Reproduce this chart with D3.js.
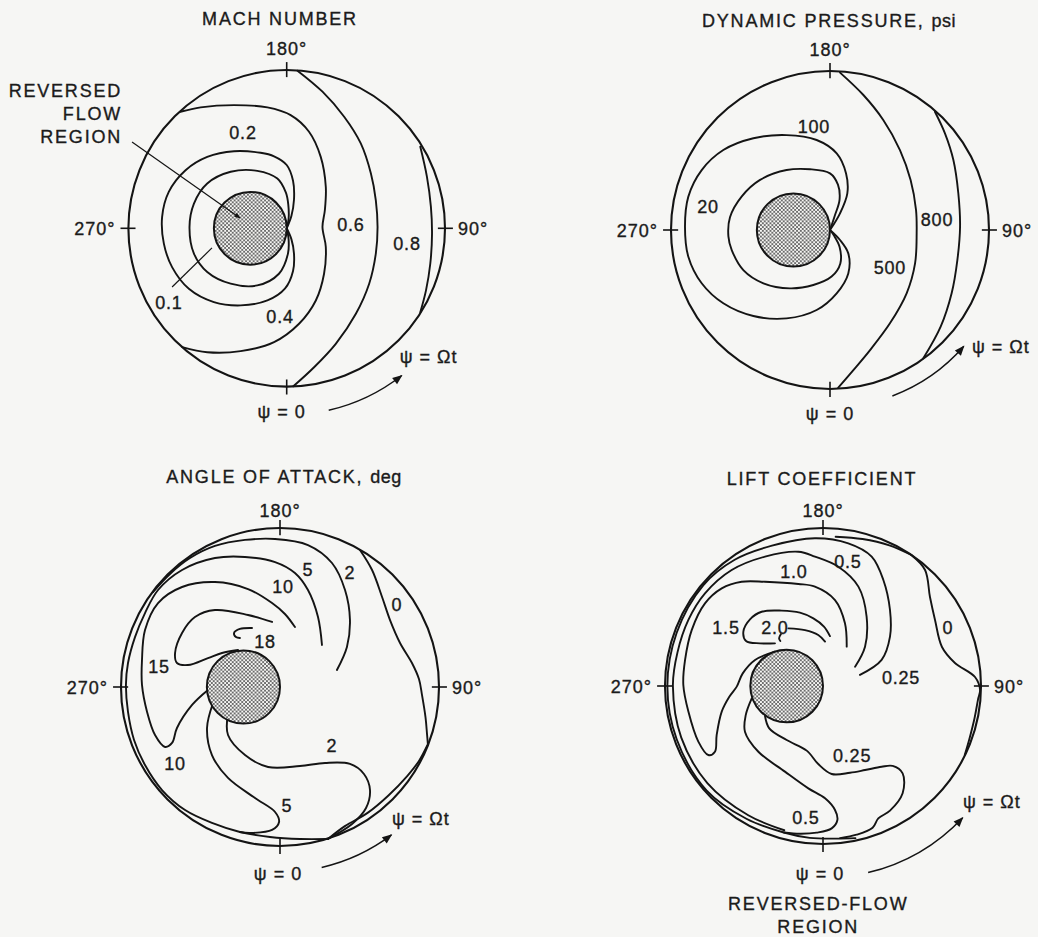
<!DOCTYPE html>
<html>
<head>
<meta charset="utf-8">
<script src="https://cdn.jsdelivr.net/npm/d3@7"></script>
<style>
  body { margin: 0; background: #f6f6f4; }
  svg text { font-family: "Liberation Sans", Arial, Helvetica, sans-serif; fill: #1b1b1b; font-size: 18px;
             stroke: #1b1b1b; stroke-width: 0.35px; }
</style>
</head>
<body>
<script>
// azimuth ticks in degrees, psi = 0 at the tail
const psiTicks = [0, 90, 180, 270];
// reversed-flow circle, radius as fraction of R (it touches the hub centre)
const hubRadius = 0.23;

// contour points are [x/R, y/R]: x toward psi = 90, y toward psi = 180
const machContours = [
  {level: "0.8", pts: [[0.844,0.515],[0.886,0.325],[0.911,0.135],[0.918,-0.034],[0.907,-0.224],[0.880,-0.392],[0.844,-0.530]]},
  {level: "0.6", pts: [[0.068,0.996],[0.226,0.863],[0.363,0.705],[0.468,0.536],[0.532,0.346],[0.563,0.177],[0.574,0.008],[0.563,-0.160],[0.521,-0.350],[0.437,-0.540],[0.310,-0.730],[0.173,-0.878],[0.042,-0.998]]},
  {level: "0.4", pts: [[-0.671,0.736],[-0.544,0.764],[-0.333,0.778],[-0.122,0.764],[0.025,0.715],[0.141,0.610],[0.215,0.451],[0.247,0.262],[0.241,0.114],[0.226,0.008],[0.247,-0.118],[0.236,-0.287],[0.184,-0.456],[0.078,-0.603],[-0.080,-0.719],[-0.291,-0.776],[-0.502,-0.783],[-0.660,-0.751]]},
  {level: "0.2", pts: [[0,0],[0.03,0.08],[0.046,0.18],[0.04,0.30],[0.0,0.40],[-0.08,0.455],[-0.165,0.477],[-0.333,0.487],[-0.502,0.451],[-0.639,0.367],[-0.745,0.230],[-0.787,0.072],[-0.776,-0.097],[-0.724,-0.245],[-0.618,-0.382],[-0.460,-0.466],[-0.291,-0.487],[-0.122,-0.456],[-0.01,-0.38],[0.04,-0.27],[0.046,-0.16],[0.03,-0.07],[0,0]]},
  {level: "0.1", pts: [[0,0],[0.012,0.06],[0.01,0.15],[-0.005,0.225],[-0.059,0.314],[-0.186,0.363],[-0.354,0.357],[-0.502,0.283],[-0.586,0.156],[-0.614,0.008],[-0.586,-0.160],[-0.502,-0.276],[-0.354,-0.350],[-0.186,-0.361],[-0.049,-0.287],[0.008,-0.160],[0.012,-0.07],[0,0]]}
];
const machLabels = [
  {text: "0.2", at: [-0.276, 0.602]},
  {text: "0.6", at: [0.406, 0.027]},
  {text: "0.8", at: [0.760, -0.099]},
  {text: "0.1", at: [-0.744, -0.466]},
  {text: "0.4", at: [-0.042, -0.560]}
];

const qContours = [
  {level: "800", pts: [[0.660,0.744],[0.723,0.608],[0.776,0.440],[0.807,0.231],[0.818,0.021],[0.801,-0.189],[0.765,-0.398],[0.696,-0.608],[0.587,-0.807]]},
  {level: "500", pts: [[0.063,0.990],[0.210,0.849],[0.335,0.692],[0.440,0.503],[0.507,0.314],[0.541,0.126],[0.545,-0.021],[0.535,-0.210],[0.482,-0.398],[0.377,-0.587],[0.252,-0.755],[0.147,-0.881],[0.052,-0.992]]},
  {level: "100", pts: [[0,0],[0.063,0.105],[0.109,0.231],[0.101,0.356],[0.042,0.482],[-0.084,0.566],[-0.273,0.597],[-0.482,0.577],[-0.671,0.503],[-0.807,0.377],[-0.891,0.210],[-0.912,0.021],[-0.891,-0.168],[-0.807,-0.335],[-0.671,-0.461],[-0.482,-0.541],[-0.273,-0.556],[-0.084,-0.503],[0.042,-0.398],[0.115,-0.273],[0.115,-0.147],[0.063,-0.063],[0,0]]},
  {level: "20", pts: [[0,0],[0.03,0.09],[0.06,0.19],[0.05,0.285],[0.0,0.356],[-0.126,0.382],[-0.273,0.377],[-0.440,0.315],[-0.556,0.21],[-0.629,0.08],[-0.639,-0.04],[-0.618,-0.126],[-0.545,-0.252],[-0.419,-0.335],[-0.252,-0.367],[-0.105,-0.346],[0.01,-0.293],[0.065,-0.21],[0.06,-0.105],[0.025,-0.035],[0,0]]}
];
const qLabels = [
  {text: "100", at: [-0.101, 0.648]},
  {text: "20", at: [-0.767, 0.145]},
  {text: "800", at: [0.673, 0.063]},
  {text: "500", at: [0.377, -0.233]}
];

const aoaContours = [
  {level: "0", pts: [[0.503,0.862],[0.579,0.736],[0.642,0.566],[0.692,0.421],[0.755,0.277],[0.830,0.151],[0.874,0.05],[0.893,-0.05],[0.915,-0.19],[0.925,-0.30],[0.93,-0.36]]},
  {level: "2", pts: [[0.358,0.107],[0.421,0.252],[0.440,0.421],[0.409,0.610],[0.327,0.780],[0.176,0.893],[-0.031,0.931],[-0.220,0.925],[-0.409,0.887],[-0.566,0.811],[-0.692,0.711],[-0.799,0.597]]},
  {level: "2", pts: [[-0.327,-0.164],[-0.327,-0.302],[-0.220,-0.428],[-0.075,-0.503],[0.126,-0.497],[0.283,-0.478],[0.440,-0.484],[0.528,-0.547],[0.566,-0.648],[0.541,-0.761],[0.453,-0.862],[0.302,-0.956]]},
  {level: "2", pts: [[0.302,-0.956],[0.408,-0.875],[0.553,-0.790],[0.682,-0.682],[0.80,-0.56],[0.874,-0.465],[0.93,-0.36]]},
  {level: "5", pts: [[0.264,0.264],[0.239,0.440],[0.176,0.610],[0.094,0.717],[-0.031,0.786],[-0.220,0.818],[-0.409,0.811],[-0.616,0.736],[-0.767,0.610],[-0.849,0.465],[-0.912,0.314],[-0.956,0.151],[-0.969,0.013],[-0.956,-0.157],[-0.918,-0.333],[-0.849,-0.491],[-0.742,-0.648],[-0.597,-0.774],[-0.428,-0.855],[-0.252,-0.912],[-0.063,-0.943],[0.126,-0.956],[0.302,-0.956]]},
  {level: "5", pts: [[-0.421,-0.101],[-0.459,-0.258],[-0.428,-0.428],[-0.327,-0.572],[-0.157,-0.698],[-0.031,-0.786],[-0.006,-0.849],[-0.050,-0.899],[-0.189,-0.918],[-0.252,-0.912]]},
  {level: "10", pts: [[0.094,0.377],[0.031,0.459],[-0.050,0.528],[-0.201,0.616],[-0.409,0.660],[-0.616,0.629],[-0.767,0.528],[-0.849,0.358],[-0.868,0.170],[-0.868,0.013],[-0.836,-0.157],[-0.786,-0.302],[-0.723,-0.377],[-0.679,-0.352],[-0.648,-0.258],[-0.553,-0.113],[-0.453,-0.019]]},
  {level: "15", pts: [[-0.050,0.409],[-0.201,0.453],[-0.409,0.484],[-0.535,0.440],[-0.616,0.340],[-0.660,0.214],[-0.648,0.151],[-0.579,0.138],[-0.453,0.182],[-0.365,0.214],[-0.264,0.233]]},
  {level: "18", pts: [[-0.176,0.371],[-0.252,0.365],[-0.289,0.340],[-0.277,0.314],[-0.252,0.308]]}
];
const aoaLabels = [
  {text: "10", at: [0.019, 0.635]},
  {text: "5", at: [0.176, 0.736]},
  {text: "2", at: [0.440, 0.717]},
  {text: "0", at: [0.736, 0.516]},
  {text: "18", at: [-0.094, 0.289]},
  {text: "15", at: [-0.761, 0.126]},
  {text: "10", at: [-0.660, -0.484]},
  {text: "2", at: [0.327, -0.371]},
  {text: "5", at: [0.044, -0.748]}
];

const liftContours = [
  {level: "0", pts: [[0.559,0.829],[0.646,0.734],[0.677,0.563],[0.709,0.418],[0.753,0.247],[0.835,0.146],[0.962,0.057],[0.994,-0.025],[0.981,-0.086],[0.959,-0.204],[0.926,-0.337],[0.897,-0.437]]},
  {level: "0.25", pts: [[0.559,0.829],[0.42,0.89],[0.25,0.93],[0.08,0.945]]},
  {level: "0.5", pts: [[0.234,0.070],[0.371,0.165],[0.424,0.312],[0.424,0.481],[0.382,0.671],[0.308,0.819],[0.160,0.903],[-0.051,0.935],[-0.323,0.888],[-0.559,0.799],[-0.758,0.637],[-0.926,0.337],[-0.985,0],[-0.926,-0.337],[-0.736,-0.662],[-0.485,-0.840],[-0.248,-0.927],[-0.084,-0.961],[0.085,-0.966],[0.205,-0.963]]},
  {level: "1.0", pts: [[0.203,0.122],[0.266,0.249],[0.276,0.439],[0.224,0.629],[0.097,0.755],[-0.051,0.819],[-0.156,0.850],[-0.367,0.819],[-0.578,0.734],[-0.747,0.586],[-0.852,0.418],[-0.921,0.213],[-0.95,0],[-0.897,-0.327],[-0.732,-0.614],[-0.473,-0.818],[-0.245,-0.913]]},
  {level: "1.5", pts: [[0.150,0.249],[0.139,0.397],[0.076,0.544],[-0.051,0.629],[-0.156,0.646],[-0.367,0.660],[-0.515,0.660],[-0.641,0.618],[-0.747,0.523],[-0.831,0.354],[-0.873,0.165],[-0.884,0.006],[-0.852,-0.162],[-0.789,-0.352],[-0.726,-0.437],[-0.684,-0.416],[-0.673,-0.310],[-0.641,-0.162],[-0.593,-0.068],[-0.546,-0.004],[-0.508,0.080],[-0.430,0.165],[-0.304,0.217]]},
  {level: "1.5", pts: [[0.044,0.316],[0.006,0.376],[-0.061,0.428],[-0.146,0.464],[-0.262,0.477],[-0.388,0.470],[-0.462,0.422],[-0.504,0.344],[-0.487,0.285],[-0.399,0.270],[-0.304,0.270]]},
  {level: "2.0", pts: [[-0.219,0.365],[-0.114,0.354],[-0.030,0.323],[0.013,0.281]]},
  {level: "2.0", pts: [[-0.266,0.329],[-0.278,0.302],[-0.270,0.285]]},
  {level: "0.5", pts: [[-0.451,-0.078],[-0.489,-0.184],[-0.494,-0.289],[-0.409,-0.416],[-0.241,-0.542],[-0.093,-0.648],[0.013,-0.711],[0.076,-0.785],[0.091,-0.848],[0.055,-0.901],[-0.040,-0.928],[-0.146,-0.935],[-0.248,-0.927]]},
  {level: "0.25", pts: [[-0.367,-0.190],[-0.340,-0.268],[-0.230,-0.342],[-0.103,-0.409],[-0.030,-0.494],[0.055,-0.557],[0.171,-0.549],[0.266,-0.532],[0.371,-0.511],[0.441,-0.506],[0.504,-0.553],[0.504,-0.679],[0.424,-0.789],[0.350,-0.838],[0.314,-0.897],[0.213,-0.941],[0.108,-0.963]]}
];
const liftLabels = [
  {text: "0.5", at: [0.158, 0.785]},
  {text: "1.0", at: [-0.184, 0.722]},
  {text: "1.5", at: [-0.614, 0.373]},
  {text: "2.0", at: [-0.304, 0.373]},
  {text: "0", at: [0.791, 0.373]},
  {text: "0.25", at: [0.494, 0.051]},
  {text: "0.25", at: [0.184, -0.437]},
  {text: "0.5", at: [-0.108, -0.835]}
];

const ink = "#141414";
const W = 1038, H = 937;

const svg = d3.select("body").append("svg")
    .attr("width", W)
    .attr("height", H)

const defs = svg.append("defs");
const pat = defs.append("pattern")
    .attr("id", "dots")
    .attr("width", 3.8).attr("height", 3.8)
    .attr("patternUnits", "userSpaceOnUse")
pat.append("rect").attr("width", 3.8).attr("height", 3.8).attr("fill", "#f6f6f4");
pat.append("circle").attr("cx", 0.95).attr("cy", 0.95).attr("r", 0.85).attr("fill", "#2a2a2a");
pat.append("circle").attr("cx", 2.85).attr("cy", 2.85).attr("r", 0.85).attr("fill", "#2a2a2a");

defs.append("marker")
    .attr("id", "arrow")
    .attr("viewBox", "0 0 10 10")
    .attr("refX", 9).attr("refY", 5)
    .attr("markerWidth", 14).attr("markerHeight", 10)
    .attr("markerUnits", "userSpaceOnUse")
    .attr("orient", "auto")
  .append("path").attr("d", "M0,1 L10,5 L0,9 Z").attr("fill", ink);

defs.append("marker")
    .attr("id", "tiny")
    .attr("viewBox", "0 0 10 10")
    .attr("refX", 9).attr("refY", 5)
    .attr("markerWidth", 7).attr("markerHeight", 6)
    .attr("markerUnits", "userSpaceOnUse")
    .attr("orient", "auto")
  .append("path").attr("d", "M0,1 L10,5 L0,9 Z").attr("fill", ink);

const panels = [
  {title: ["MACH NUMBER"], tx: 280, ty: 25, cx: 286.7, cy: 228.3, r: 158.3,
   contours: machContours, labels: machLabels,
   topGap: 15, arrow: [13, 38, 1.18], omega: [113, 135], zero: [-5, 31],
   notes: [{lines: ["REVERSED", "FLOW", "REGION"], at: [-1.04, 0.83], anchor: "end"}],
   leaders: [{from: [-0.977, 0.545], to: [-0.295, 0.065]}, {from: [-0.724, -0.371], to: [-0.472, -0.124], plain: true}]},
  {title: ["DYNAMIC PRESSURE, ", "psi"], tx: 829, ty: 27, cx: 830, cy: 230, r: 159,
   contours: qContours, labels: qLabels,
   topGap: 15, arrow: [20.6, 49, 1.115], omega: [142, 123], zero: [0, 31],
   notes: [], leaders: []},
  {title: ["ANGLE OF ATTACK, ", "deg"], tx: 284, ty: 483, cx: 280, cy: 687, r: 159,
   contours: aoaContours, labels: aoaLabels,
   topGap: 11, arrow: [13, 37, 1.165], omega: [112, 138], zero: [-2, 34],
   notes: [], leaders: []},
  {title: ["LIFT COEFFICIENT"], tx: 822, ty: 485, cx: 823, cy: 686, r: 158,
   contours: liftContours, labels: liftLabels,
   topGap: 11, arrow: [13.6, 46.7, 1.215], omega: [140, 122], zero: [-3, 36],
   notes: [{lines: ["REVERSED-FLOW", "REGION"], at: [-0.03, -1.418], anchor: "middle"}],
   leaders: []}
];

function drawPanel(p) {
  const x = d3.scaleLinear().domain([-1, 1]).range([p.cx - p.r, p.cx + p.r]);
  const y = d3.scaleLinear().domain([-1, 1]).range([p.cy + p.r, p.cy - p.r]);
  const R = x(1) - x(0);
  const rad = a => a * Math.PI / 180;
  const disk = (psi, rr) => [rr * Math.sin(rad(psi)), -rr * Math.cos(rad(psi))];

  const line = d3.line()
      .x(d => x(d[0]))
      .y(d => y(d[1]))
      .curve(d3.curveCatmullRom.alpha(0.5))

  const g = svg.append("g");

  // title
  const t = g.append("text")
      .attr("x", p.tx).attr("y", p.ty)
      .attr("text-anchor", "middle")
      .attr("letter-spacing", "1.8px")
  t.append("tspan").text(p.title[0]);
  if (p.title[1]) t.append("tspan").attr("letter-spacing", "0.5px").text(p.title[1]);

  // contours
  g.selectAll(".contour")
    .data(p.contours)
    .join("path")
    .attr("class", "contour")
    .attr("d", d => line(d.pts))
    .attr("fill", "none")
    .attr("stroke", ink)
    .attr("stroke-width", 1.9)
    .attr("stroke-linecap", "round")
    .attr("stroke-linejoin", "round")

  // rotor disk
  g.append("circle")
    .attr("cx", x(0)).attr("cy", y(0)).attr("r", R)
    .attr("fill", "none").attr("stroke", ink).attr("stroke-width", 2.1)

  // reversed-flow region
  g.append("circle")
    .attr("cx", x(-hubRadius)).attr("cy", y(0)).attr("r", x(hubRadius) - x(0))
    .attr("fill", "url(#dots)").attr("stroke", ink).attr("stroke-width", 2)

  // azimuth ticks
  g.selectAll(".tick")
    .data(psiTicks)
    .join("line")
    .attr("class", "tick")
    .attr("x1", d => x(disk(d, 0.955)[0]))
    .attr("y1", d => y(disk(d, 0.955)[1]))
    .attr("x2", d => x(disk(d, 1.05)[0]))
    .attr("y2", d => y(disk(d, 1.05)[1]))
    .attr("stroke", ink).attr("stroke-width", 1.6)

  const tickText = g.append("g").attr("letter-spacing", "1px");
  tickText.append("text").attr("x", x(0)).attr("y", y(1) - p.topGap)
    .attr("text-anchor", "middle").text("180°");
  tickText.append("text").attr("x", x(-1) - 13).attr("y", y(0) + 7)
    .attr("text-anchor", "end").text("270°");
  tickText.append("text").attr("x", x(1) + 13).attr("y", y(0) + 7)
    .attr("text-anchor", "start").text("90°");
  tickText.append("text").attr("x", x(0) + p.zero[0]).attr("y", y(-1) + p.zero[1])
    .attr("text-anchor", "middle").text("ψ = 0");
  tickText.append("text").attr("x", x(0) + p.omega[0]).attr("y", y(0) + p.omega[1])
    .attr("text-anchor", "start").text("ψ = Ωt");

  // rotation arrow
  const [a0, a1, rf] = p.arrow;
  const ap = d3.path();
  ap.arc(x(0), y(0), R * rf, rad(90 - a0), rad(90 - a1), true);
  g.append("path")
    .attr("d", ap.toString())
    .attr("fill", "none").attr("stroke", ink).attr("stroke-width", 1.5)
    .attr("marker-end", "url(#arrow)")

  // contour values
  g.selectAll(".lbl")
    .data(p.labels)
    .join("text")
    .attr("class", "lbl")
    .attr("x", d => x(d.at[0]))
    .attr("y", d => y(d.at[1]))
    .attr("dy", "0.36em")
    .attr("text-anchor", "middle")
    .attr("letter-spacing", "0.8px")
    .text(d => d.text)

  // callouts
  p.leaders.forEach(l => {
    g.append("line")
      .attr("x1", x(l.from[0])).attr("y1", y(l.from[1]))
      .attr("x2", x(l.to[0])).attr("y2", y(l.to[1]))
      .attr("stroke", ink).attr("stroke-width", 1.2)
      .attr("marker-end", l.plain ? null : "url(#tiny)")
  });
  p.notes.forEach(n => {
    g.selectAll(null)
      .data(n.lines)
      .join("text")
      .attr("x", x(n.at[0]))
      .attr("y", (d, i) => y(n.at[1]) + i * 23)
      .attr("text-anchor", n.anchor)
      .attr("letter-spacing", "1.8px")
      .text(d => d)
  });
}

panels.forEach(drawPanel);
</script>
</body>
</html>
